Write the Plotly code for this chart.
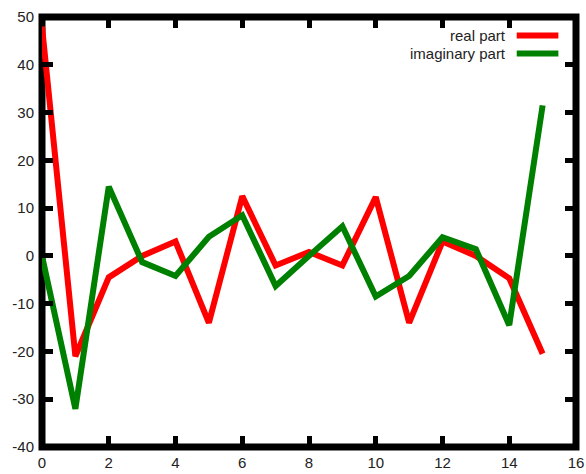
import plotly.graph_objects as go

# FFT bins and their components
k = list(range(16))
real_part = [48, -21, -4.5, 0, 3, -14, 12.5, -2, 0.8, -2, 12.3, -14, 3, 0, -4.7, -20.5]
imag_part = [0, -32, 14.5, -1.3, -4.2, 4, 8.5, -6.3, 0, 6.2, -8.5, -4.2, 3.9, 1.4, -14.5, 31.5]

series_names = ["real part", "imaginary part"]
series_colors = ["#ff0000", "#008000"]
x_ticks = list(range(0, 17, 2))
y_ticks = list(range(-40, 51, 10))

fig = go.Figure()
for name, vals, col in zip(series_names, [real_part, imag_part], series_colors):
    fig.add_trace(go.Scatter(x=k, y=vals, mode="lines", name=name,
                             line=dict(color=col, width=6), showlegend=False))

# key in the upper right: label text followed by a line sample
for i, (name, col) in enumerate(zip(series_names, series_colors)):
    yk = 0.957 - i * 0.042
    fig.add_annotation(x=0.872, y=yk, xref="paper", yref="paper", text=name,
                       showarrow=False, xanchor="right", yanchor="middle",
                       font=dict(family="Liberation Sans, Arial", size=15, color="#222"))
    fig.add_shape(type="line", xref="paper", yref="paper",
                  x0=0.889, x1=0.967, y0=yk, y1=yk,
                  line=dict(color=col, width=6))

# heavy frame centred on the plotting-area border (under the tick marks)
fig.add_shape(type="rect", xref="paper", yref="paper", x0=0, x1=1, y0=0, y1=1,
              line=dict(color="black", width=7), layer="below")

axis_common = dict(showgrid=False, zeroline=False, showline=True, linecolor="black",
                   linewidth=3, mirror="allticks", ticks="inside", ticklen=11,
                   tickwidth=5, tickcolor="black", automargin=False,
                   tickfont=dict(family="Liberation Sans, Arial", size=15, color="#222"))

fig.update_xaxes(range=[0, 16], tickvals=x_ticks, ticklabelstandoff=0,
                 ticktext=[str(v) for v in x_ticks], **axis_common)
fig.update_yaxes(range=[-40, 50], tickvals=y_ticks, ticklabelstandoff=2,
                 ticktext=[str(v) for v in y_ticks], **axis_common)

fig.update_layout(
    width=586, height=474,
    margin=dict(l=42, r=10, t=17, b=27),
    plot_bgcolor="white", paper_bgcolor="white",
)

fig.write_html("out.html")
